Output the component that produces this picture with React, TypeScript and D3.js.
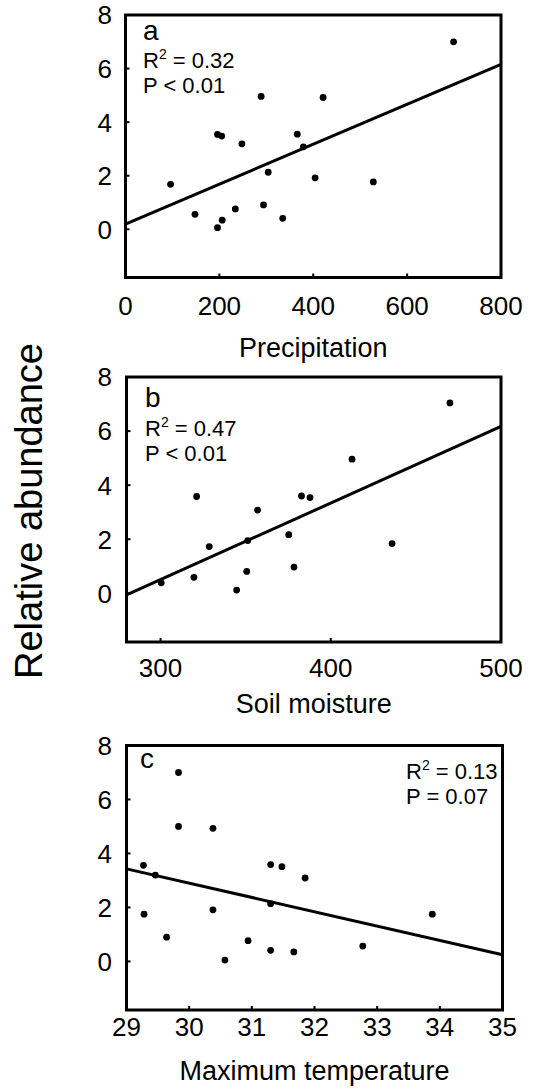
import React from "react";
import * as d3 from "d3";

// ---- data ----
const precipX = [96, 148, 196, 206, 196, 205, 234, 248, 289, 294, 304, 335, 366, 379, 404, 421, 528, 699];
const precipY = [1.68, 0.56, 0.06, 0.34, 3.54, 3.48, 0.76, 3.19, 4.96, 0.91, 2.13, 0.41, 3.55, 3.08, 1.92, 4.92, 1.77, 7.0];

const soilX = [300.4, 319.6, 321.2, 328.6, 344.7, 350.6, 351.2, 357, 375.3, 378.4, 382.8, 387.8, 412.5, 436, 470];
const soilY = [0.39, 0.59, 3.58, 1.73, 0.12, 0.81, 1.95, 3.08, 2.17, 0.97, 3.6, 3.54, 4.96, 1.84, 7.04];

const tempX = [29.27, 29.28, 29.46, 29.64, 29.83, 29.83, 30.38, 30.38, 30.57, 30.94, 31.3, 31.3, 31.3, 31.48, 31.67, 31.85, 32.77, 33.88];
const tempY = [3.56, 1.75, 3.2, 0.9, 7.0, 5.0, 4.93, 1.91, 0.05, 0.77, 3.59, 2.14, 0.41, 3.51, 0.35, 3.09, 0.57, 1.75];

// regression lines [intercept, slope]
const precipFit = [0.19, 0.00746];
const soilFit = [-7.99, 0.02832];
const tempFit = [18.8, -0.53];

const precipTicks = [0, 200, 400, 600, 800];
const soilTicks = [300, 400, 500];
const tempTicks = [29, 30, 31, 32, 33, 34, 35];
const yTicks = [0, 2, 4, 6, 8];

const panelLetters = ["a", "b", "c"];
const statR2 = ["0.32", "0.47", "0.13"];
const statP = ["P < 0.01", "P < 0.01", "P = 0.07"];
const xTitles = ["Precipitation", "Soil moisture", "Maximum temperature"];
const yTitle = "Relative abundance";

// ---- layout ----
const FONT = "'Liberation Sans', Arial, Helvetica, sans-serif";
const layouts = [
  { left: 125.5, right: 501, top: 15, bottom: 277.5, tickBase: 315, titleBase: 357, statX: 143, letterBase: 40, r2Base: 68, pBase: 93, anchor: "start" },
  { left: 126.5, right: 501, top: 377, bottom: 642, tickBase: 677, titleBase: 713, statX: 145, letterBase: 406.5, r2Base: 436, pBase: 461, anchor: "start" },
  { left: 126.5, right: 502.5, top: 745.5, bottom: 1010, tickBase: 1036, titleBase: 1080, statX: 406, letterBase: 768, r2Base: 779, pBase: 804, anchor: "start" },
];

const panels = [
  { xs: precipX, ys: precipY, fit: precipFit, xDomain: [0, 800], xTicks: precipTicks },
  { xs: soilX, ys: soilY, fit: soilFit, xDomain: [280, 500], xTicks: soilTicks },
  { xs: tempX, ys: tempY, fit: tempFit, xDomain: [29, 35], xTicks: tempTicks },
];

function Panel({ i }: { i: number }) {
  const p = panels[i];
  const L = layouts[i];
  const x = d3.scaleLinear().domain(p.xDomain).range([L.left, L.right]);
  const y = d3.scaleLinear().domain([-1.8, 8]).range([L.bottom, L.top]);
  const [b0, b1] = p.fit;
  const [x0, x1] = p.xDomain;
  const line = d3.line<number>().x((v) => x(v)).y((v) => y(b0 + b1 * v));
  const tickLen = 4;
  return (
    <g>
      <path d={line([x0, x1]) || ""} fill="none" stroke="#000" strokeWidth={3} />
      {p.xs.map((xv, k) => (
        <circle key={k} cx={x(xv)} cy={y(p.ys[k])} r={3.4} fill="#000" />
      ))}
      {p.xTicks.map((t) => (
        <line key={"xt" + t} x1={x(t)} x2={x(t)} y1={L.bottom} y2={L.bottom - tickLen} stroke="#000" strokeWidth={2} />
      ))}
      {yTicks.map((t) => (
        <line key={"yt" + t} x1={L.left} x2={L.left + tickLen} y1={y(t)} y2={y(t)} stroke="#000" strokeWidth={2} />
      ))}
      <rect x={L.left} y={L.top} width={L.right - L.left} height={L.bottom - L.top} fill="none" stroke="#000" strokeWidth={3} />
      {p.xTicks.map((t) => (
        <text key={"xl" + t} x={x(t)} y={L.tickBase} textAnchor="middle" fontSize={26} fontFamily={FONT}>
          {t}
        </text>
      ))}
      {yTicks.map((t) => (
        <text key={"yl" + t} x={112} y={y(t)} dy="0.36em" textAnchor="end" fontSize={26} fontFamily={FONT}>
          {t}
        </text>
      ))}
      <text x={(L.left + L.right) / 2} y={L.titleBase} textAnchor="middle" fontSize={27} fontFamily={FONT}>
        {xTitles[i]}
      </text>
      <text x={i === 2 ? 140 : L.statX} y={L.letterBase} fontSize={28} fontFamily={FONT}>
        {panelLetters[i]}
      </text>
      <text x={L.statX} y={L.r2Base} fontSize={22} fontFamily={FONT}>
        R<tspan fontSize={14} dy={-9}>2</tspan>
        <tspan dy={9}> = {statR2[i]}</tspan>
      </text>
      <text x={L.statX} y={L.pBase} fontSize={22} fontFamily={FONT}>
        {statP[i]}
      </text>
    </g>
  );
}

export default function App() {
  return (
    <svg width={535} height={1090} style={{ position: "absolute", left: 0, top: 0, background: "#fff" }}>
      <rect width={535} height={1090} fill="#fff" />
      {panels.map((_, i) => (
        <Panel key={i} i={i} />
      ))}
      <text transform="translate(42,511) rotate(-90)" textAnchor="middle" fontSize={38} fontFamily={FONT}>
        {yTitle}
      </text>
    </svg>
  );
}
